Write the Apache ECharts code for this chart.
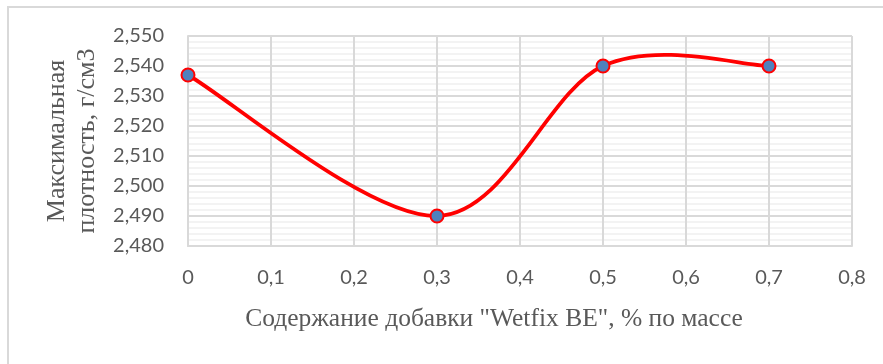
<!DOCTYPE html>
<html>
<head>
<meta charset="utf-8">
<script src="https://cdn.jsdelivr.net/npm/echarts@6/dist/echarts.min.js"></script>
<style>
  html, body { margin: 0; padding: 0; background: #fff; }
  #chart { width: 883px; height: 364px; }
</style>
</head>
<body>
<div id="chart"></div>
<script>
// Содержание добавки, % по массе
const additiveContent = [0, 0.3, 0.5, 0.7];
// Максимальная плотность, г/см3
const maxDensity = [2.537, 2.490, 2.540, 2.540];

const yTitle = 'Максимальная\nплотность, г/см3';
const xTitle = 'Содержание добавки "Wetfix BE", % по массе';

const points = additiveContent.map((x, i) => [x, maxDensity[i]]);
const comma = (v, digits) => v.toFixed(digits).replace('.', ',');

// Smoothed curve: each segment is a cubic Bezier whose control points come
// from the neighbouring points (Catmull-Rom style, 1/6 tension), computed in
// pixel space after the axes have mapped the values.
function renderSegment(params, api) {
  const i = params.dataIndex;
  const n = points.length;
  if (i >= n - 1) return null;
  const p = j => api.coord(points[Math.max(0, Math.min(n - 1, j))]);
  const p0 = p(i - 1), p1 = p(i), p2 = p(i + 1), p3 = p(i + 2);
  const c1 = [p1[0] + (p2[0] - p0[0]) / 6, p1[1] + (p2[1] - p0[1]) / 6];
  const c2 = [p2[0] - (p3[0] - p1[0]) / 6, p2[1] - (p3[1] - p1[1]) / 6];
  return {
    type: 'bezierCurve',
    shape: {
      x1: p1[0], y1: p1[1],
      cpx1: c1[0], cpy1: c1[1],
      cpx2: c2[0], cpy2: c2[1],
      x2: p2[0], y2: p2[1]
    },
    style: { stroke: '#ff0000', lineWidth: 3.75, fill: null, lineCap: 'round' }
  };
}

const chart = echarts.init(document.getElementById('chart'), null, { renderer: 'canvas' });
chart.setOption({
  animation: false,
  backgroundColor: '#ffffff',
  graphic: [{
    type: 'rect',
    z: -1,
    shape: { x: 8, y: 7, width: 1000, height: 500 },
    style: { fill: 'none', stroke: '#d9d9d9', lineWidth: 2 }
  }],
  grid: { left: 188, top: 36, right: 31, bottom: 118, containLabel: false },
  xAxis: {
    type: 'value',
    min: 0, max: 0.8, interval: 0.1,
    name: xTitle,
    nameLocation: 'middle',
    nameGap: 60,
    nameTextStyle: {
      fontFamily: 'Liberation Serif', fontSize: 25.5, color: '#595959',
      padding: [0, 52, 0, 0]
    },
    axisLine: { show: true, lineStyle: { color: '#d9d9d9', width: 2 } },
    axisTick: { show: false },
    axisLabel: {
      margin: 22, fontFamily: 'Lato', fontSize: 20, color: '#595959',
      formatter: v => v === 0 ? '0' : comma(v, 1)
    },
    splitLine: { show: true, lineStyle: { color: '#d9d9d9', width: 2 } }
  },
  yAxis: {
    type: 'value',
    min: 2.48, max: 2.55, interval: 0.01,
    name: yTitle,
    nameLocation: 'middle',
    nameRotate: 90,
    nameGap: 81,
    nameTextStyle: {
      fontFamily: 'Liberation Serif', fontSize: 26, color: '#595959', lineHeight: 30
    },
    axisLine: { show: true, lineStyle: { color: '#d9d9d9', width: 2 } },
    axisTick: { show: false },
    axisLabel: {
      margin: 24, fontFamily: 'Lato', fontSize: 20, color: '#595959',
      formatter: v => comma(v, 3)
    },
    splitLine: { show: true, lineStyle: { color: '#d9d9d9', width: 2 } },
    minorTick: { show: false, splitNumber: 5 },
    minorSplitLine: { show: true, lineStyle: { color: '#efefef', width: 1.5 } }
  },
  series: [{
    type: 'custom',
    data: points,
    renderItem: renderSegment,
    clip: false,
    z: 2
  }, {
    type: 'scatter',
    data: points,
    symbol: 'circle',
    symbolSize: 13,
    itemStyle: { color: '#4f81bd', borderColor: '#ff0000', borderWidth: 2, opacity: 1 },
    z: 3
  }]
});
</script>
</body>
</html>
